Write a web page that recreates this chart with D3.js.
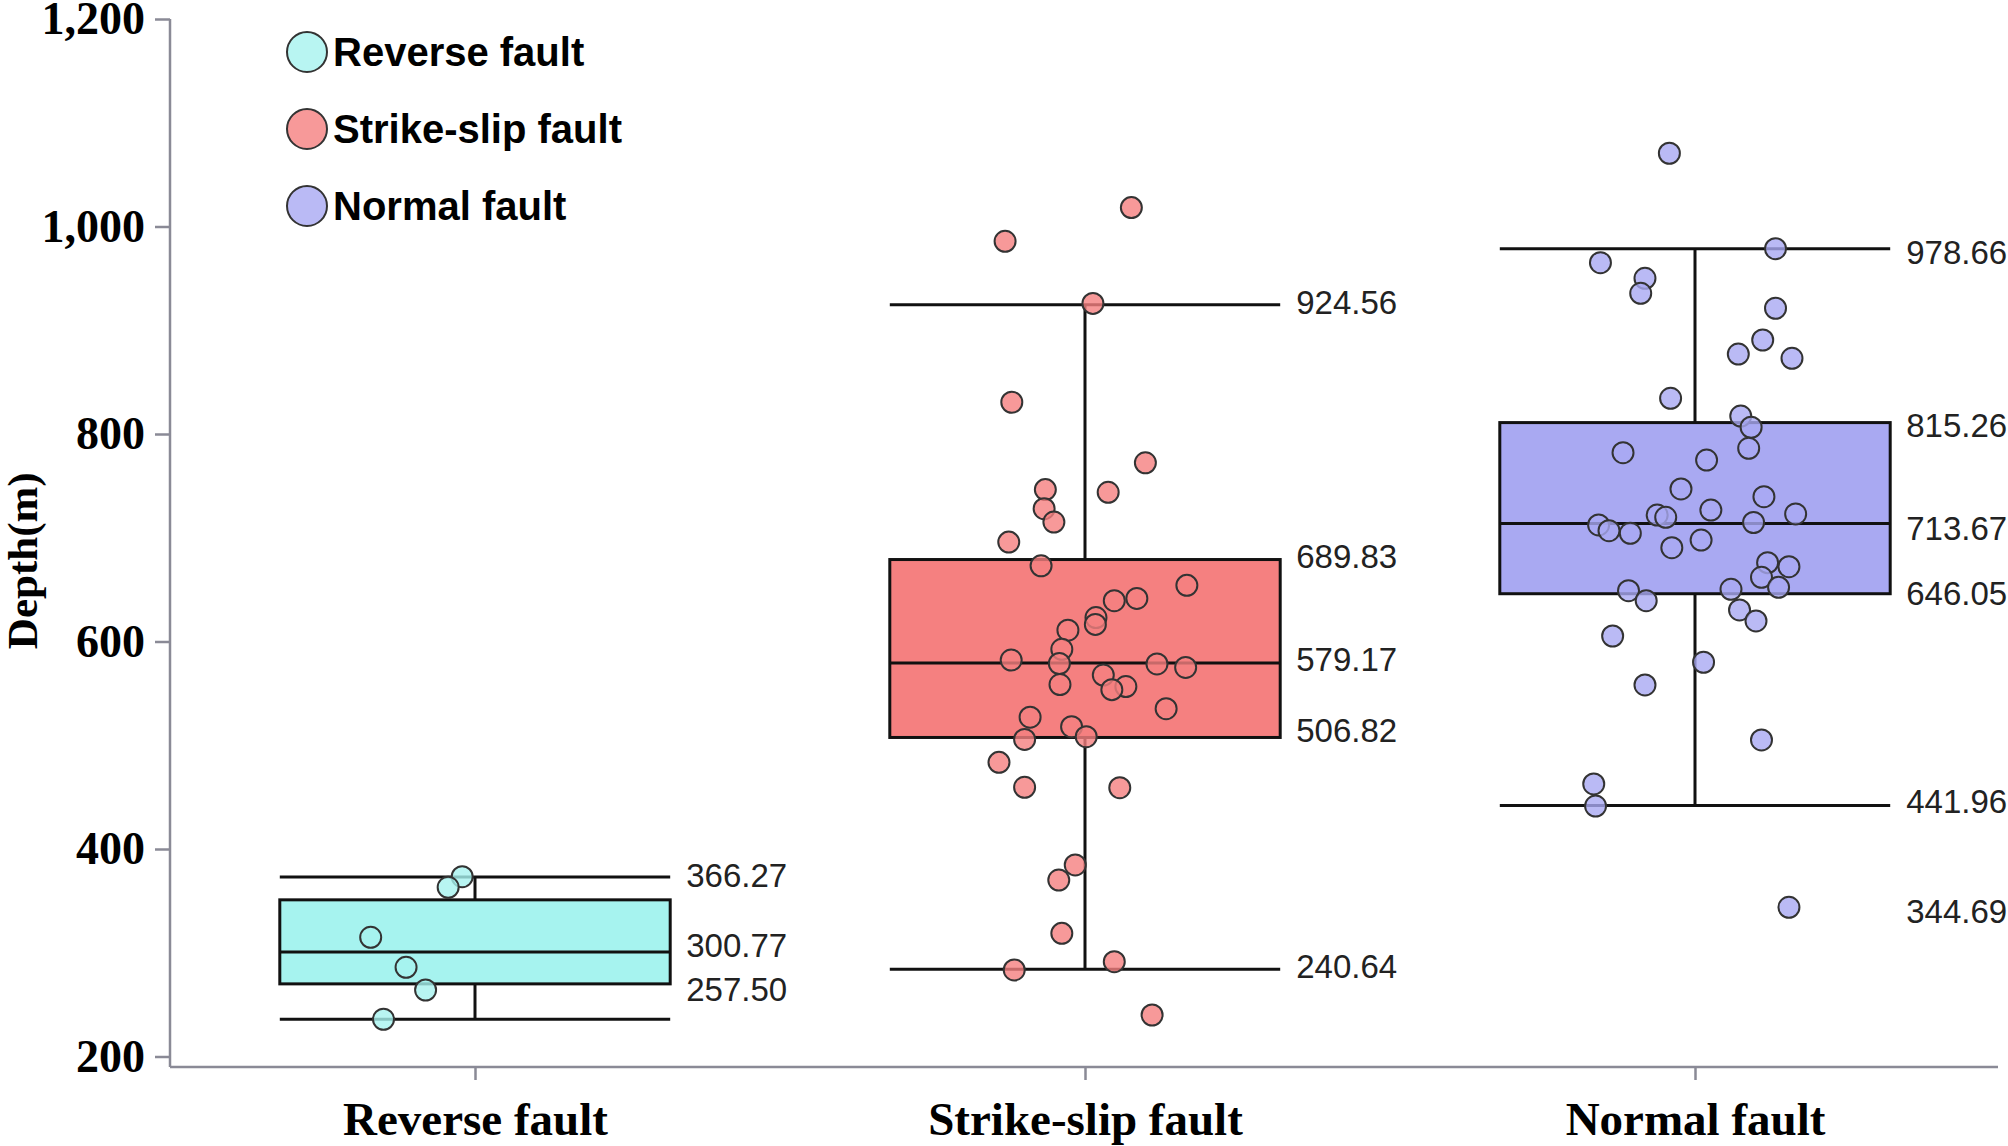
<!DOCTYPE html>
<html>
<head>
<meta charset="utf-8">
<script src="https://cdn.jsdelivr.net/npm/d3@7"></script>
<style>
  html, body { margin: 0; padding: 0; background: #fff; }
  svg { display: block; }
</style>
</head>
<body>
<svg id="chart" width="2008" height="1146"></svg>
<script>
// ---------------- DATA ----------------
const categories = ["Reverse fault", "Strike-slip fault", "Normal fault"];
const yTickValues = [200, 400, 600, 800, 1000, 1200];
const yTitle = "Depth(m)";

// box statistics (as drawn)
const whiskerHigh = [373, 924.56, 978.66];
const q3 = [351, 679, 811];
const medians = [300.77, 579.17, 713.67];
const q1 = [270, 507.5, 646.05];
const whiskerLow = [236, 284, 441.96];

// value labels next to each box: text and the depth at which it is written
const reverseLabels = [["366.27", 374], ["300.77", 307], ["257.50", 265]];
const strikeLabels = [["924.56", 927], ["689.83", 681.5], ["579.17", 583], ["506.82", 514], ["240.64", 287]];
const normalLabels = [["978.66", 975], ["815.26", 808], ["713.67", 709], ["646.05", 646.05], ["441.96", 446], ["344.69", 340]];

// scatter points: [jitter (category units), depth (m)]
const reversePoints = [
  [-0.021, 373.3], [-0.044, 363.1], [-0.171, 314.9], [-0.113, 286.0], [-0.081, 264.1], [-0.150, 235.9]
];
const strikePoints = [
  [0.076, 1018.2], [-0.131, 985.7], [0.013, 925.9], [-0.120, 830.6], [0.099, 772.2],
  [-0.065, 746.4], [0.038, 743.8], [-0.067, 728.0], [-0.051, 715.1], [-0.125, 695.8],
  [-0.072, 673.0], [0.167, 654.1], [0.048, 639.3], [0.085, 641.5], [0.018, 623.1],
  [0.017, 616.5], [-0.028, 610.9], [-0.038, 592.5], [-0.121, 582.1], [-0.042, 578.8],
  [0.118, 578.4], [0.165, 575.0], [0.030, 567.7], [-0.041, 558.5], [0.067, 556.6],
  [0.044, 553.6], [0.133, 535.2], [-0.090, 527.0], [-0.022, 517.9], [-0.099, 505.6],
  [0.002, 508.2], [-0.141, 483.5], [-0.099, 459.5], [0.057, 459.1], [-0.016, 384.6],
  [-0.043, 370.1], [-0.038, 318.7], [0.048, 291.4], [-0.116, 283.4], [0.110, 240.0]
];
const normalPoints = [
  [-0.042, 1070.6], [0.132, 978.6], [-0.155, 965.1], [-0.082, 950.1], [-0.089, 935.6],
  [0.132, 921.2], [0.111, 890.6], [0.071, 877.1], [0.159, 873.0], [-0.040, 834.4],
  [0.075, 817.3], [0.092, 806.5], [0.088, 786.2], [-0.118, 782.0], [0.019, 774.9],
  [-0.023, 747.0], [0.113, 739.6], [0.026, 726.7], [0.165, 722.9], [-0.062, 721.9],
  [-0.048, 719.7], [0.096, 714.7], [-0.158, 712.3], [-0.141, 706.8], [-0.106, 704.3],
  [0.010, 697.8], [-0.038, 690.4], [0.119, 676.0], [0.154, 672.1], [0.109, 661.9],
  [0.137, 652.2], [-0.109, 649.0], [0.059, 650.3], [-0.080, 639.3], [0.073, 630.4],
  [0.100, 619.8], [-0.135, 605.3], [0.014, 580.0], [-0.082, 558.1], [0.109, 505.1],
  [-0.166, 462.7], [-0.163, 441.4], [0.154, 343.8]
];

const fills = ["#a6f3ef", "#f58080", "#a9a9f2"];

// ---------------- CHART ----------------
const svg = d3.select("#chart");
const plotLeft = 170, plotRight = 2000, plotTop = 19, axisY = 1067;
const x = d3.scaleLinear().domain([-0.5, 2.5]).range([plotLeft, plotRight]);
const y = d3.scaleLinear().domain([200, 1200]).range([1056.5, plotTop]);
const boxHalf = 0.32;
const axisColor = "#8a8a96";
const serif = "'Liberation Serif', 'Times New Roman', serif";
const sans = "'Liberation Sans', Arial, sans-serif";

const pointsByCat = [reversePoints, strikePoints, normalPoints];
const labelsByCat = [reverseLabels, strikeLabels, normalLabels];

// axes
const yAxis = svg.append("g")
  .attr("transform", `translate(${plotLeft},0)`)
  .call(d3.axisLeft(y).tickValues(yTickValues).tickFormat(d3.format(",")).tickSize(15).tickPadding(10).tickSizeOuter(0));
yAxis.select(".domain").remove();
yAxis.selectAll(".tick line").attr("stroke", axisColor).attr("stroke-width", 2.5);
yAxis.selectAll(".tick text")
  .attr("font-family", serif).attr("font-weight", "bold").attr("font-size", 46).attr("fill", "#000");

const xAxis = svg.append("g")
  .attr("transform", `translate(0,${axisY})`)
  .call(d3.axisBottom(x).tickValues([0, 1, 2]).tickFormat(i => categories[i]).tickSize(13).tickPadding(22).tickSizeOuter(0));
xAxis.select(".domain").remove();
xAxis.selectAll(".tick line").attr("stroke", axisColor).attr("stroke-width", 2.5);
xAxis.selectAll(".tick text")
  .attr("font-family", serif).attr("font-weight", "bold").attr("font-size", 47).attr("fill", "#000");

svg.append("line").attr("x1", plotLeft).attr("x2", plotLeft).attr("y1", plotTop).attr("y2", axisY)
  .attr("stroke", axisColor).attr("stroke-width", 2.5);
svg.append("line").attr("x1", plotLeft).attr("x2", 1998).attr("y1", axisY).attr("y2", axisY)
  .attr("stroke", axisColor).attr("stroke-width", 2.5);

// y title
svg.append("text")
  .attr("transform", `translate(37,${(y(200) + y(1200)) / 2 + 23}) rotate(-90)`)
  .attr("text-anchor", "middle")
  .attr("font-family", serif).attr("font-weight", "bold").attr("font-size", 43).attr("fill", "#000")
  .text(yTitle);

// boxes
categories.forEach((c, i) => {
  const g = svg.append("g");
  const xl = x(i - boxHalf), xr = x(i + boxHalf), xc = x(i);
  g.append("line").attr("x1", xc).attr("x2", xc).attr("y1", y(whiskerHigh[i])).attr("y2", y(whiskerLow[i]))
    .attr("stroke", "#111").attr("stroke-width", 3);
  g.append("rect").attr("x", xl).attr("width", xr - xl)
    .attr("y", y(q3[i])).attr("height", y(q1[i]) - y(q3[i]))
    .attr("fill", fills[i]).attr("stroke", "#111").attr("stroke-width", 3);
  [whiskerHigh[i], medians[i], whiskerLow[i]].forEach(v => {
    g.append("line").attr("x1", xl).attr("x2", xr).attr("y1", y(v)).attr("y2", y(v))
      .attr("stroke", "#111").attr("stroke-width", 3);
  });
  g.selectAll("text.val").data(labelsByCat[i]).join("text")
    .attr("class", "val")
    .attr("x", xr + 16).attr("y", d => y(d[1]))
    .attr("dominant-baseline", "central")
    .attr("font-family", sans).attr("font-size", 33).attr("fill", "#222")
    .text(d => d[0]);
  g.selectAll("circle").data(pointsByCat[i]).join("circle")
    .attr("cx", d => x(i + d[0])).attr("cy", d => y(d[1])).attr("r", 10.5)
    .attr("fill", fills[i]).attr("fill-opacity", 0.8)
    .attr("stroke", "#333").attr("stroke-width", 2);
});

// legend
const legend = svg.append("g");
categories.forEach((c, i) => {
  const cy = 52 + i * 77;
  legend.append("circle").attr("cx", 307).attr("cy", cy).attr("r", 20)
    .attr("fill", fills[i]).attr("fill-opacity", 0.8).attr("stroke", "#333").attr("stroke-width", 2);
  legend.append("text").attr("x", 333).attr("y", cy).attr("dominant-baseline", "central")
    .attr("font-family", sans).attr("font-weight", "bold")
    .attr("font-size", 40).attr("fill", "#000").text(c);
});
</script>
</body>
</html>
